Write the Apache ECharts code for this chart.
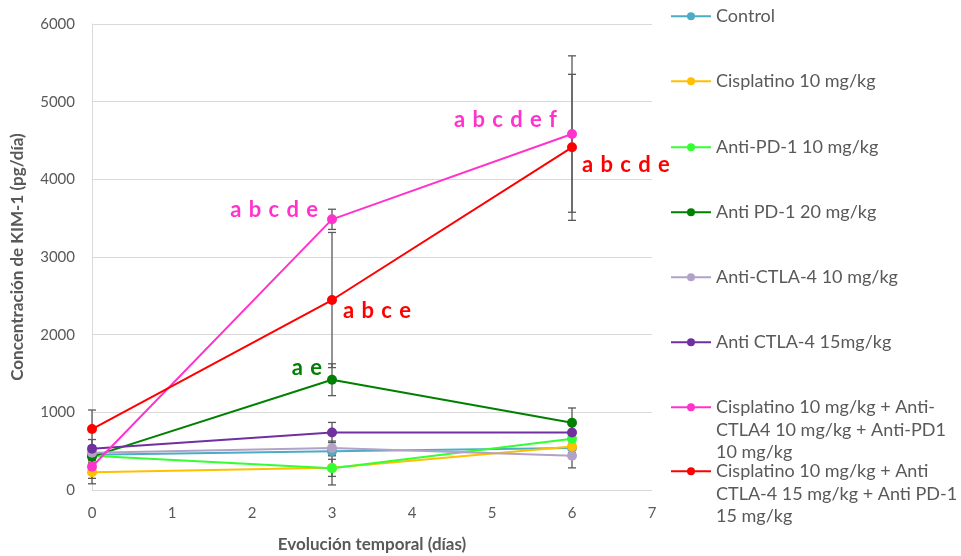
<!DOCTYPE html>
<html>
<head>
<meta charset="utf-8">
<script src="https://cdn.jsdelivr.net/npm/echarts@6/dist/echarts.min.js"></script>
<style>
  html, body { margin: 0; padding: 0; background: #fff; }
  #chart { width: 961px; height: 556px; }
</style>
</head>
<body>
<div id="chart"></div>
<script>
// dias
var days = [0, 3, 6];

// nombres de los grupos
var names = [
    'Control',
    'Cisplatino 10 mg/kg',
    'Anti-PD-1 10 mg/kg',
    'Anti PD-1 20 mg/kg',
    'Anti-CTLA-4 10 mg/kg',
    'Anti CTLA-4 15mg/kg',
    'Cisplatino 10 mg/kg + Anti-CTLA4 10 mg/kg + Anti-PD1 10 mg/kg',
    'Cisplatino 10 mg/kg + Anti CTLA-4 15 mg/kg + Anti PD-1 15 mg/kg'
];
// texto de la leyenda (con saltos de linea)
var legendText = [
    'Control',
    'Cisplatino 10 mg/kg',
    'Anti-PD-1 10 mg/kg',
    'Anti PD-1 20 mg/kg',
    'Anti-CTLA-4 10 mg/kg',
    'Anti CTLA-4 15mg/kg',
    'Cisplatino 10 mg/kg + Anti-\nCTLA4 10 mg/kg + Anti-PD1\n10 mg/kg',
    'Cisplatino 10 mg/kg + Anti\nCTLA-4 15 mg/kg + Anti PD-1\n15 mg/kg'
];
var colors = ['#4BACC6', '#FFC000', '#33FF33', '#008000', '#B3A2C7', '#7030A0', '#FF33CC', '#FF0000'];

// valores medios (pg/dia)
var control = [455, 500, 540];
var cisplatino = [230, 285, 560];
var antiPD1_10 = [440, 280, 660];
var antiPD1_20 = [430, 1420, 866];
var antiCTLA4_10 = [480, 540, 440];
var antiCTLA4_15 = [530, 740, 740];
var combo10 = [300, 3485, 4583];
var combo15 = [785, 2446, 4412];

// error (+/-)
var errControl = [80, 60, 60];
var errCisplatino = [80, 110, 80];
var errAntiPD1_10 = [90, 215, 90];
var errAntiPD1_20 = [100, 205, 190];
var errAntiCTLA4_10 = [90, 90, 155];
var errAntiCTLA4_15 = [120, 130, 100];
var errCombo10 = [220, 130, 1007];
var errCombo15 = [245, 870, 940];

// letras de significancia: [serie, punto, texto]
var sp = '\u2004';
var sigLabels = [
    [6, 1, ['a', 'b', 'c', 'd', 'e'].join(sp)],
    [6, 2, ['a', 'b', 'c', 'd', 'e', 'f'].join(sp)],
    [7, 1, ['a', 'b', 'c', 'e'].join(sp)],
    [7, 2, ['a', 'b', 'c', 'd', 'e'].join(sp)],
    [3, 1, ['a', 'e'].join(sp)]
];

var values = [control, cisplatino, antiPD1_10, antiPD1_20, antiCTLA4_10, antiCTLA4_15, combo10, combo15];
var errors = [errControl, errCisplatino, errAntiPD1_10, errAntiPD1_20, errAntiCTLA4_10, errAntiCTLA4_15, errCombo10, errCombo15];

var font = 'Lato, sans-serif';
var gray = '#595959';

// posicion de cada etiqueta
var labelPos = {
    '6-1': { position: 'left', distance: 9, offset: [0, -9] },
    '6-2': { position: 'left', distance: 10, offset: [0, -14] },
    '7-1': { position: 'right', distance: 6, offset: [0, 11] },
    '7-2': { position: 'right', distance: 5, offset: [0, 18] },
    '3-1': { position: 'left', distance: 5, offset: [0, -12] }
};

var series = [];
var errData = [];
values.forEach(function (vals, s) {
    var data = vals.map(function (v, i) {
        var item = { value: [days[i], v] };
        sigLabels.forEach(function (l) {
            if (l[0] === s && l[1] === i) {
                var p = labelPos[s + '-' + i];
                item.label = {
                    show: true,
                    formatter: l[2],
                    position: p.position,
                    distance: p.distance,
                    offset: p.offset,
                    color: colors[s],
                    fontFamily: font,
                    fontWeight: 'bold',
                    fontSize: 22
                };
            }
        });
        errData.push([days[i], v, errors[s][i]]);
        return item;
    });
    series.push({
        name: names[s],
        type: 'line',
        data: data,
        symbol: 'circle',
        symbolSize: 10,
        z: 3,
        lineStyle: { width: 2, color: colors[s] },
        itemStyle: { color: colors[s] },
        emphasis: { disabled: true }
    });
});

// barras de error
series.unshift({
    type: 'custom',
    z: 1,
    silent: true,
    data: errData,
    encode: { x: 0, y: 1 },
    renderItem: function (params, api) {
        var x = api.value(0), y = api.value(1), e = api.value(2);
        var hi = api.coord([x, y + e]);
        var lo = api.coord([x, y - e]);
        var w = 4;
        var st = { stroke: gray, lineWidth: 1.3 };
        return {
            type: 'group',
            children: [
                { type: 'line', shape: { x1: hi[0], y1: hi[1], x2: lo[0], y2: lo[1] }, style: st },
                { type: 'line', shape: { x1: hi[0] - w, y1: hi[1], x2: hi[0] + w, y2: hi[1] }, style: st },
                { type: 'line', shape: { x1: lo[0] - w, y1: lo[1], x2: lo[0] + w, y2: lo[1] }, style: st }
            ]
        };
    }
});

// una leyenda por grupo
var legendY = [16, 81, 147, 212, 277, 342, 407, 471];
var legends = names.map(function (n, i) {
    var multi = legendText[i].indexOf('\n') >= 0;
    return {
        data: [n],
        left: 670,
        top: multi ? legendY[i] - 56 : legendY[i] - 11,
        padding: 0,
        orient: 'vertical',
        itemWidth: 40,
        itemHeight: 10,
        selectedMode: false,
        // dos lineas vacias para que el icono quede en la primera linea
        formatter: function () { return multi ? '\n\n' + legendText[i] : legendText[i]; },
        textStyle: {
            color: gray,
            fontFamily: font,
            fontSize: 18,
            lineHeight: 22.5
        }
    };
});

var option = {
    animation: false,
    color: colors,
    legend: legends,
    grid: { left: 92, right: 309, top: 24, bottom: 66, outerBoundsMode: 'none' },
    xAxis: {
        type: 'value',
        min: 0,
        max: 7,
        interval: 1,
        name: 'Evolución temporal (días)',
        nameLocation: 'middle',
        nameGap: 46,
        nameTextStyle: { color: gray, fontFamily: font, fontWeight: 'bold', fontSize: 17 },
        axisLine: { show: true, lineStyle: { color: '#D9D9D9', width: 1 } },
        axisTick: { show: false },
        splitLine: { show: false },
        axisLabel: { color: gray, fontFamily: font, fontSize: 15, margin: 16 }
    },
    yAxis: {
        type: 'value',
        min: 0,
        max: 6000,
        interval: 1000,
        name: 'Concentración de KIM-1 (pg/día)',
        nameLocation: 'middle',
        nameGap: 66,
        nameTextStyle: { color: gray, fontFamily: font, fontWeight: 'bold', fontSize: 17 },
        axisLine: { show: true, lineStyle: { color: '#D9D9D9', width: 1 } },
        axisTick: { show: false },
        splitLine: { lineStyle: { color: '#D9D9D9', width: 1 } },
        axisLabel: {
            color: gray, fontFamily: font, fontSize: 15, margin: 17,
            formatter: function (v) { return String(v); }
        }
    },
    series: series
};

var myChart = echarts.init(document.getElementById('chart'));
myChart.setOption(option);
</script>
</body>
</html>
